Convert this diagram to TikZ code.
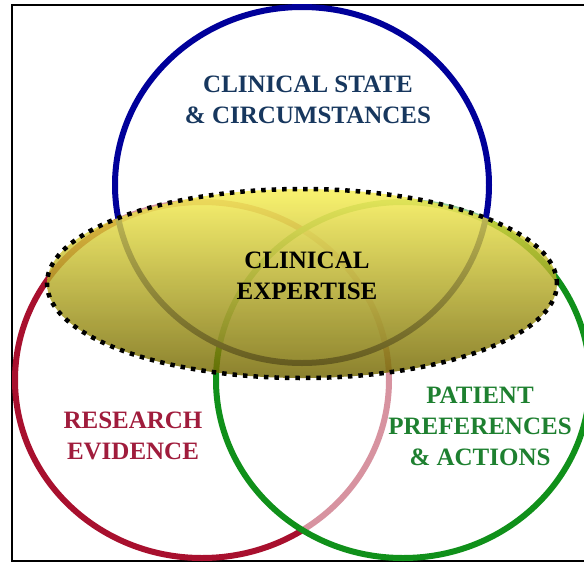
\documentclass[tikz,border=0pt]{standalone}
\usepackage{fontspec}
\setmainfont{Liberation Serif}
\definecolor{statecol}{HTML}{00009A}
\definecolor{evidcol}{HTML}{A8102E}
\definecolor{patcol}{HTML}{10901A}
\definecolor{statetxt}{HTML}{17375E}
\definecolor{evidtxt}{HTML}{A01C3C}
\definecolor{pattxt}{HTML}{1E8030}
\definecolor{elltop}{HTML}{F8F050}
\definecolor{ellmid}{HTML}{E2D630}
\definecolor{ellbot}{HTML}{726600}
\tikzset{
  label/.style={align=center, font=\fontsize{25}{31}\selectfont\bfseries, inner sep=0pt},
  ring/.style={line width=6pt, fill=white, fill opacity=0.55},
  oval/.style={x radius=187pt, y radius=178pt}
}
\begin{document}
\begin{tikzpicture}[x=1pt, y=-1pt]
\useasboundingbox (0,0) rectangle (584,563);

\draw [line width=2pt] (12,5) rectangle (592,561);

\begin{scope}[ring]
\filldraw [draw=evidcol] (202,380) ellipse [oval];
\filldraw [draw=patcol] (403,380) ellipse [oval];
\filldraw [draw=statecol] (302,185) ellipse [oval];
\end{scope}

\shade [top color=elltop, middle color=ellmid, bottom color=ellbot, opacity=0.82] (302,283.5) ellipse [x radius=255pt, y radius=94.5pt];
\draw [line width=4.5pt, dash pattern=on 4.5pt off 6pt] (302,283.5) ellipse [x radius=255pt, y radius=94.5pt];

\node [label, text=statetxt] (state) at (308,100) {CLINICAL STATE\\\& CIRCUMSTANCES};
\node [label, text=black] (expert) at (307,276) {CLINICAL\\EXPERTISE};
\node [label, text=evidtxt] (evid) at (133,436) {RESEARCH\\EVIDENCE};
\node [label, text=pattxt] (pat) at (480,426) {PATIENT\\PREFERENCES\\\& ACTIONS};

\end{tikzpicture}
\end{document}
